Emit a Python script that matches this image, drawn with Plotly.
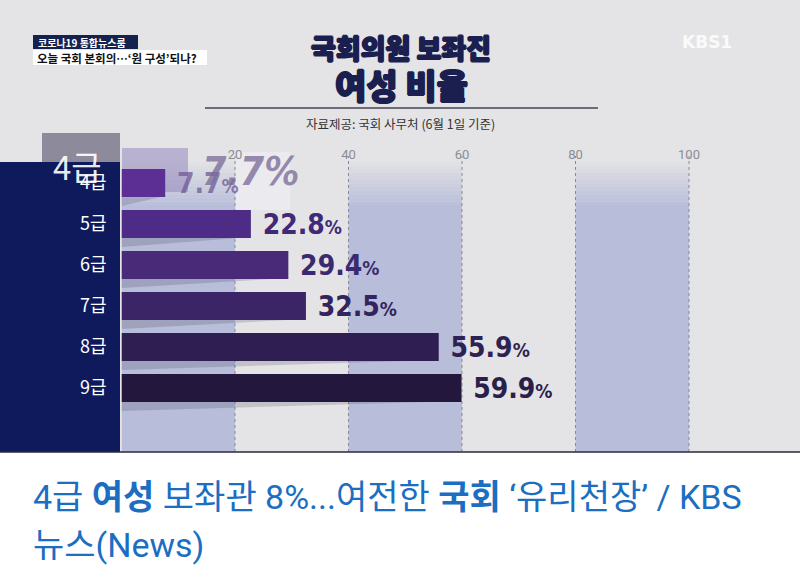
import plotly.graph_objects as go

# data (share of women among assembly aides, %)
grades = ['4급', '5급', '6급', '7급', '8급', '9급']
share = [7.7, 22.8, 29.4, 32.5, 55.9, 59.9]
bar_colors = ['#5c2f95', '#4f2b88', '#482a78', '#3b2566', '#2e1e51', '#23173d']
label_colors = ['rgba(110,90,150,0.75)', '#3f2a78', '#3b2a70', '#33245f', '#2e2252', '#2a1f4a']
tick_vals = [20, 40, 60, 80, 100]

W, H = 800, 580
X0, SCALE = 121.5, 5.675   # pixel of 0 %, pixels per %
ROW0, ROW_STEP = 183, 41   # pixel centre of the first row, row pitch


def px(x):
    return x / W


def py(y):
    return 1 - y / H


NAVY = '#0e1a5b'
BAND = '#b8bdd9'
FRAME_BG = '#e4e4e6'
TITLE = '#1b1f4f'
NUM_FONT = 'DejaVu Sans Condensed, Liberation Sans Narrow, sans-serif'
KR_FONT = 'Noto Sans CJK KR, Noto Sans, sans-serif'
HEAVY = f'0.9px 0 0 {TITLE}, -0.9px 0 0 {TITLE}, 0 0.6px 0 {TITLE}, 0 -0.6px 0 {TITLE}'

labels = [f" {v}<span style='font-size:19px'>%</span>" for v in share]

fig = go.Figure(go.Bar(
    x=share, y=grades, orientation='h',
    marker=dict(color=bar_colors, line_width=0),
    width=0.68,
    text=labels, textposition='outside', constraintext='none',
    textfont=dict(family=NUM_FONT, size=28, color=label_colors, weight='bold'),
    cliponaxis=False, hoverinfo='skip',
))

shapes = []
# TV frame background + bottom rule
shapes.append(dict(type='rect', xref='paper', yref='paper', x0=0, x1=1, y0=py(452), y1=1,
                   fillcolor=FRAME_BG, line_width=0, layer='below'))

# alternating bands, fading in at the top
for k in range(0, 100, 40):
    shapes.append(dict(type='rect', xref='x', yref='paper', x0=k, x1=k + 20,
                       y0=py(452), y1=py(205), fillcolor=BAND, line_width=0, layer='below'))
    steps = 12
    for i in range(steps):
        top = 162 + i * (43 / steps)
        shapes.append(dict(type='rect', xref='x', yref='paper', x0=k, x1=k + 20,
                           y0=py(top + 43 / steps), y1=py(top), fillcolor=BAND,
                           opacity=(i + 1) / (steps + 1), line_width=0, layer='below'))

# dotted grid lines
for v in tick_vals:
    shapes.append(dict(type='line', xref='x', yref='paper', x0=v, x1=v, y0=py(452), y1=py(156),
                       line=dict(color='#8a8a96', width=1, dash='dot'), layer='below'))

# soft drop shadow wedge under each bar
for i, v in enumerate(share):
    bottom = ROW0 + i * ROW_STEP + 14
    shapes.append(dict(type='path', xref='x', yref='paper',
                       path=f'M 0,{py(bottom)} L {v * 0.9},{py(bottom)} L 0,{py(bottom + 9)} Z',
                       fillcolor='rgba(70,70,90,0.22)', line_width=0, layer='below'))

# left navy panel
shapes.append(dict(type='rect', xref='paper', yref='paper', x0=0, x1=px(120), y0=py(452), y1=py(162),
                   fillcolor=NAVY, line_width=0, layer='below'))
# transition ghost box above the 4급 label
shapes.append(dict(type='rect', xref='paper', yref='paper', x0=px(42), x1=px(120), y0=py(162), y1=py(133),
                   fillcolor='#8d8b9b', line_width=0, layer='below'))
shapes.append(dict(type='rect', xref='paper', yref='paper', x0=px(122), x1=px(188), y0=py(192), y1=py(148),
                   fillcolor='rgba(150,135,190,0.55)', line_width=0, layer='below'))
shapes.append(dict(type='rect', xref='paper', yref='paper', x0=px(236), x1=px(290), y0=py(210), y1=py(152),
                   fillcolor='rgba(240,240,245,0.6)', line_width=0, layer='below'))

shapes.append(dict(type='line', xref='paper', yref='paper', x0=0, x1=1, y0=py(452), y1=py(452),
                   line=dict(color='#2a2a3a', width=1.5)))

# title underline
shapes.append(dict(type='line', xref='paper', yref='paper', x0=px(205), x1=px(598), y0=py(108), y1=py(108),
                   line=dict(color='#6c6c78', width=2)))

# top-left news strap
shapes.append(dict(type='rect', xref='paper', yref='paper', x0=px(33), x1=px(138), y0=py(49), y1=py(35),
                   fillcolor='#14224f', line_width=0))
shapes.append(dict(type='rect', xref='paper', yref='paper', x0=px(33), x1=px(207), y0=py(65), y1=py(50),
                   fillcolor='#ffffff', line_width=0))

annotations = [
    dict(text='<b>코로나19 통합뉴스룸</b>', x=px(36), y=py(42), xanchor='left', yanchor='middle',
         font=dict(family=KR_FONT, size=10, color='white')),
    dict(text='<b>오늘 국회 본회의…‘원 구성’되나?</b>', x=px(35), y=py(57.5), xanchor='left', yanchor='middle',
         font=dict(family=KR_FONT, size=11.5, color='#111111')),
    dict(text='KBS1', x=px(707), y=py(42), xanchor='center', yanchor='middle',
         font=dict(family='DejaVu Sans, sans-serif', size=17, color='rgba(255,255,255,0.85)', weight='bold')),
    dict(text='국회의원 보좌진', x=px(401), y=py(48), xanchor='center', yanchor='middle',
         font=dict(family=KR_FONT, size=27, color=TITLE, weight=900, shadow=HEAVY)),
    dict(text='여성 비율', x=px(402), y=py(84), xanchor='center', yanchor='middle',
         font=dict(family=KR_FONT, size=34, color=TITLE, weight=900, shadow=HEAVY)),
    dict(text='자료제공: 국회 사무처 (6월 1일 기준)', x=px(400), y=py(124), xanchor='center', yanchor='middle',
         font=dict(family=KR_FONT, size=12.5, color='#333333')),
    # ghosted transition copies of the first row
    dict(text='4급', x=px(104), y=py(166), xanchor='right', yanchor='middle',
         font=dict(family=KR_FONT, size=33, color='rgba(255,255,255,0.92)')),
    dict(text=f"<i>{share[0]}%</i>", x=px(200), y=py(172), xanchor='left', yanchor='middle',
         font=dict(family=NUM_FONT, size=39, color='rgba(120,105,150,0.75)', weight='bold')),
    # caption below the frame
    dict(text="4급 <b>여성</b> 보좌관 8%...여전한 <b>국회</b> ‘유리천장’ / KBS",
         x=px(31), y=py(497), xanchor='left', yanchor='middle',
         font=dict(family='Roboto, ' + KR_FONT, size=34, color='#1b6ec2')),
    dict(text='뉴스(News)', x=px(31), y=py(545), xanchor='left', yanchor='middle',
         font=dict(family='Roboto, ' + KR_FONT, size=34, color='#1b6ec2')),
]
for a in annotations:
    a.update(xref='paper', yref='paper', showarrow=False)

fig.update_layout(
    width=W, height=H,
    margin=dict(l=0, r=0, t=0, b=0),
    paper_bgcolor='white', plot_bgcolor='rgba(0,0,0,0)',
    showlegend=False,
    shapes=shapes, annotations=annotations,
    xaxis=dict(domain=[px(X0), 1], range=[0, (W - X0) / SCALE], side='top',
               tickvals=tick_vals, ticks='', showgrid=False, zeroline=False, showline=False,
               tickfont=dict(family='Roboto, sans-serif', size=13, color='#8c8c94')),
    yaxis=dict(domain=[py(ROW0 + 5.5 * ROW_STEP), py(ROW0 - 0.5 * ROW_STEP)], type='category',
               range=[5.5, -0.5],
               showgrid=False, zeroline=False, showline=False, ticks='',
               ticklabelstandoff=14,
               tickfont=dict(family=KR_FONT, size=18, color='white')),
)

fig.write_html('out.html', config={'displayModeBar': False},
               post_script="document.body.style.margin='0';")
